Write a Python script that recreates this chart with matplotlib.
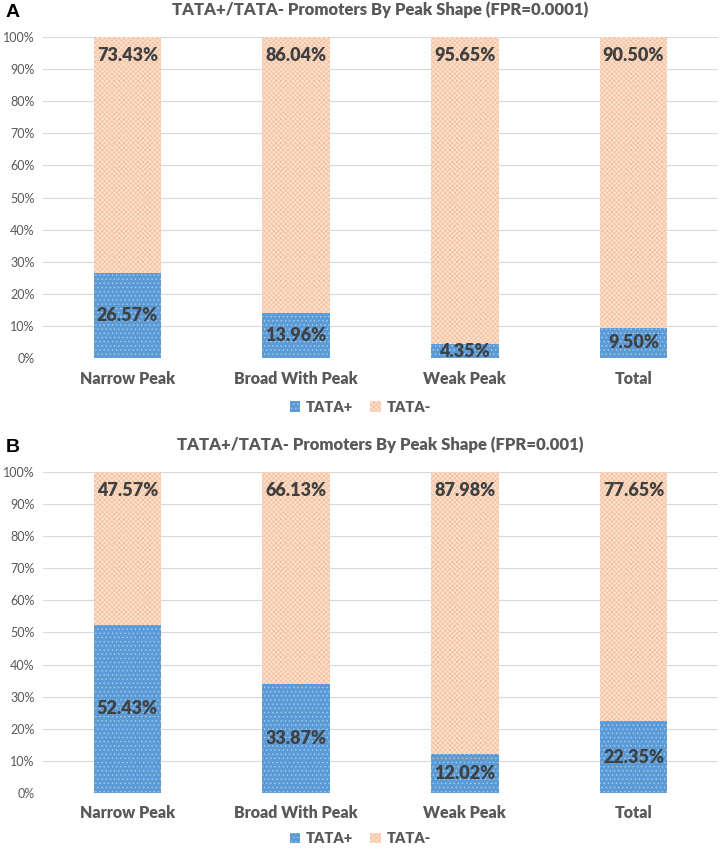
import numpy as np
import matplotlib as mpl
import matplotlib.pyplot as plt

mpl.rcParams['font.family'] = ['Lato', 'DejaVu Sans']
mpl.rcParams['hatch.linewidth'] = 0.5

categories = ['Narrow Peak', 'Broad With Peak', 'Weak Peak', 'Total']
tata_plus_a = [26.57, 13.96, 4.35, 9.50]
tata_minus_a = [73.43, 86.04, 95.65, 90.50]
tata_plus_b = [52.43, 33.87, 12.02, 22.35]
tata_minus_b = [47.57, 66.13, 87.98, 77.65]
titles = ['TATA+/TATA- Promoters By Peak Shape (FPR=0.0001)',
          'TATA+/TATA- Promoters By Peak Shape (FPR=0.001)']
panel_tags = ['A', 'B']

GRAY = '#595959'
LABEL = '#404040'


def draw_panel(ax, plus, minus, title, tag, leg_y):
    x = np.arange(len(categories))
    ax.bar(x, plus, width=0.4, color='#5B9BD5', edgecolor='#A9CCEB',
           hatch='....', linewidth=0, label='TATA+', zorder=2)
    ax.bar(x, minus, width=0.4, bottom=plus, color='#FBE0CD',
           edgecolor='#F4BE9A', hatch='xxxxxxx', linewidth=0,
           label='TATA-', zorder=2)
    for i in range(len(categories)):
        ax.text(x[i], plus[i] / 2, '%.2f%%' % plus[i], ha='center',
                va='center', fontsize=13, fontweight='heavy', color=LABEL,
                zorder=3)
        ax.annotate('%.2f%%' % minus[i], xy=(x[i], 100), xytext=(0, -13),
                    textcoords='offset points', ha='center', va='center',
                    fontsize=13, fontweight='heavy', color=LABEL, zorder=3)
    ax.set_xlim(-0.5, len(categories) - 0.5)
    ax.set_ylim(0, 100)
    ax.set_yticks(np.arange(0, 101, 10))
    ax.set_yticklabels(['%d%%' % v for v in range(0, 101, 10)])
    ax.set_xticks(x)
    ax.set_xticklabels(categories, fontweight='heavy', fontsize=11.5)
    ax.tick_params(axis='both', length=0, colors=GRAY)
    ax.tick_params(axis='y', labelsize=9, pad=6)
    ax.tick_params(axis='x', pad=9)
    ax.grid(axis='y', color='#D9D9D9', linewidth=0.8, zorder=0)
    for s in ax.spines.values():
        s.set_visible(False)
    ax.set_title(title, fontsize=12, fontweight='heavy', color=GRAY, pad=16)
    ax.text(-0.045, 1.075, tag, transform=ax.transAxes, fontsize=14,
            fontweight='bold', color='black', family='Liberation Sans',
            va='center', ha='center')
    leg = ax.legend(loc='center', bbox_to_anchor=(0.47, leg_y), ncol=2,
                    frameon=False, handlelength=0.7, handleheight=0.7,
                    handletextpad=0.4, columnspacing=1.2,
                    prop={'weight': 'heavy', 'size': 10.5})
    for t in leg.get_texts():
        t.set_color(GRAY)


fig = plt.figure(figsize=(7.21, 8.49), dpi=100)
ax_a = fig.add_axes([0.0596, 0.5783, 0.9362, 0.3781])
ax_b = fig.add_axes([0.0596, 0.0660, 0.9362, 0.3781])
draw_panel(ax_a, tata_plus_a, tata_minus_a, titles[0], panel_tags[0], -0.153)
draw_panel(ax_b, tata_plus_b, tata_minus_b, titles[1], panel_tags[1], -0.143)

fig.savefig('out.png', dpi=100)
